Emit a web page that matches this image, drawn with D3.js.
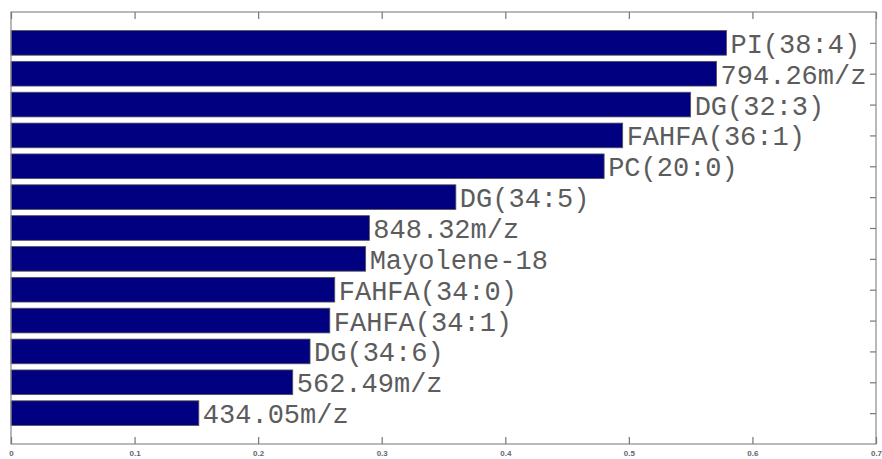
<!DOCTYPE html>
<html>
<head>
<meta charset="utf-8">
<script src="https://cdn.jsdelivr.net/npm/d3@7"></script>
<style>
  body { margin: 0; background: #fff; }
  svg { display: block; }
</style>
</head>
<body>
<div id="chart"></div>
<script>
// bar labels, top to bottom
var labels = ['PI(38:4)', '794.26m/z', 'DG(32:3)', 'FAHFA(36:1)', 'PC(20:0)', 'DG(34:5)',
	'848.32m/z', 'Mayolene-18', 'FAHFA(34:0)', 'FAHFA(34:1)', 'DG(34:6)', '562.49m/z', '434.05m/z'];
var values = [0.579, 0.571, 0.550, 0.495, 0.480, 0.360,
	0.290, 0.287, 0.262, 0.258, 0.242, 0.228, 0.152];
var xTicks = [0, 0.1, 0.2, 0.3, 0.4, 0.5, 0.6, 0.7];

var width = 882, height = 459;
var plotLeft = 11, plotRight = 876, plotTop = 12, plotBottom = 444;

var svg = d3.select('#chart').append('svg')
	.attr('width', width)
	.attr('height', height);

var x = d3.scaleLinear().domain([0, 0.7]).range([plotLeft, plotRight]);
// slots 1..13 hold the bars, 0 and 14 are the empty margins
var y = d3.scaleLinear().domain([0, 14]).range([plotTop, plotBottom]);
var step = y(1) - y(0);
var barH = step * 0.8;

svg.selectAll('rect.bar')
	.data(values)
	.enter()
	.append('rect')
	.attr('class', 'bar')
	.attr('x', x(0))
	.attr('y', function(d, i){ return y(i + 1) - barH / 2; })
	.attr('width', function(d){ return x(d) - x(0); })
	.attr('height', barH)
	.attr('fill', '#000080')
	.attr('stroke', '#555')
	.attr('stroke-width', 0.8);

svg.selectAll('text.lbl')
	.data(labels)
	.enter()
	.append('text')
	.attr('class', 'lbl')
	.attr('x', function(d, i){ return x(values[i]) + 4; })
	.attr('y', function(d, i){ return y(i + 1); })
	.attr('dy', '0.37em')
	.style('font-family', '"Liberation Mono", "Courier New", monospace')
	.style('font-size', '27px')
	.attr('fill', '#5c5c5c')
	.text(function(d){ return d; });

// frame
svg.append('rect')
	.attr('x', plotLeft).attr('y', plotTop)
	.attr('width', plotRight - plotLeft).attr('height', plotBottom - plotTop)
	.attr('fill', 'none')
	.attr('stroke', '#8a8a8a')
	.attr('stroke-width', 1.2);

// bottom axis ticks + labels
var xAxis = d3.axisBottom(x).tickValues(xTicks).tickSizeInner(-7).tickSizeOuter(0)
	.tickFormat(function(d){ return d === 0 ? '0' : d3.format('.1f')(d); });
var gx = svg.append('g').attr('transform', 'translate(0,' + plotBottom + ')').call(xAxis);
gx.select('.domain').remove();
gx.selectAll('line').attr('stroke', '#777').attr('stroke-width', 1.2);
gx.selectAll('text')
	.attr('y', 6)
	.attr('dy', '0.71em')
	.style('font-family', 'Arial, "Liberation Sans", sans-serif')
	.style('font-size', '8px')
	.style('font-weight', 'bold')
	.attr('fill', '#666');

// top ticks
var gt = svg.append('g').attr('transform', 'translate(0,' + plotTop + ')')
	.call(d3.axisTop(x).tickValues(xTicks).tickSizeInner(-7).tickSizeOuter(0).tickFormat(''));
gt.select('.domain').remove();
gt.selectAll('line').attr('stroke', '#777').attr('stroke-width', 1.2);

// right ticks at each bar
var gr = svg.append('g').attr('transform', 'translate(' + plotRight + ',0)')
	.call(d3.axisRight(y).tickValues(d3.range(1, 14)).tickSizeInner(-6).tickSizeOuter(0).tickFormat(''));
gr.select('.domain').remove();
gr.selectAll('line').attr('stroke', '#777').attr('stroke-width', 1.2);
</script>
</body>
</html>
